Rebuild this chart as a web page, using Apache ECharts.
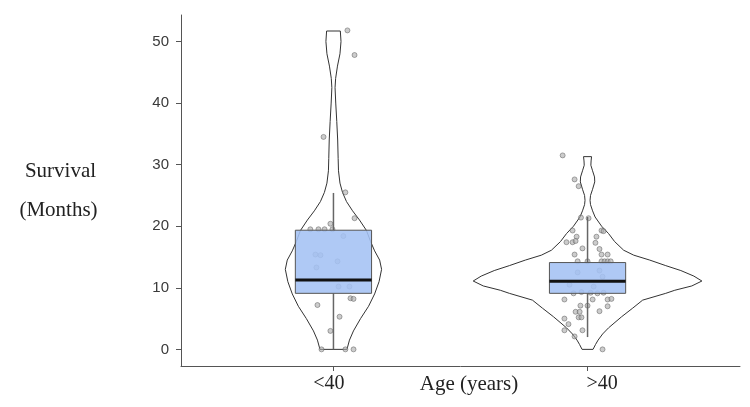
<!DOCTYPE html>
<html><head><meta charset="utf-8">
<script src="https://cdn.jsdelivr.net/npm/echarts@6/dist/echarts.min.js"></script>
<style>html,body{margin:0;padding:0;background:#fff}#c{width:750px;height:407px}</style>
</head><body><div id="c"></div>
<script>
// ---------- data ----------
const categories = ['<40', '>40'];
const yTicks = [0, 10, 20, 30, 40, 50];

// violin outlines: value (months) and relative density
const violinLt40Values  = [0,1.5,3,5,7,9,11,13,14.5,16,17.5,19.3,21,22.5,24,25.5,27,29,31,34,37,40,42.5,44,46,48,50,51.7];
const violinLt40Density = [0.118,0.140,0.175,0.237,0.307,0.360,0.399,0.421,0.404,0.360,0.325,0.289,0.228,0.167,0.114,0.079,0.057,0.044,0.041,0.037,0.029,0.020,0.014,0.019,0.035,0.057,0.066,0.060];
const violinGt40Values  = [0,0.8,1.5,2.5,3.5,5.3,6.7,8.0,9.1,9.6,10.3,11.1,11.9,12.8,13.6,14.5,15.3,16.1,17.5,18.8,20,21.5,22.5,23.5,24.2,25,26,27.2,28,29,29.9,30.6,31.3];
const violinGt40Density = [0.048,0.070,0.092,0.132,0.184,0.298,0.395,0.482,0.684,0.763,0.912,1.0,0.930,0.816,0.684,0.544,0.404,0.316,0.237,0.184,0.123,0.066,0.044,0.026,0.022,0.026,0.044,0.063,0.061,0.044,0.029,0.031,0.035];

// box statistics: low whisker, q1, median, q3, high whisker
const boxLt40 = [0, 9.1, 11.27, 19.35, 25.4];
const boxGt40 = [2.0, 9.1, 11.06, 14.1, 21.5];

// jittered observations: horizontal jitter (category units) and value
const pointsLt40Jitter = [0.055,0.083,-0.039,0.047,0.083,-0.012,-0.091,-0.059,-0.035,-0.004,0.039,-0.071,-0.051,0.016,-0.067,0.02,0.063,0.067,0.079,-0.063,0.024,-0.012,-0.047,0.047,0.079];
const pointsLt40Values = [51.8,47.8,34.5,25.5,21.3,20.4,19.5,19.5,19.5,19.5,18.4,15.4,15.3,14.3,13.3,10.2,10.2,8.3,8.2,7.2,5.3,3.0,0,0,0];
const pointsGt40Jitter = [-0.098,-0.051,-0.035,-0.026,0.004,-0.059,0.055,0.063,-0.043,0.035,-0.083,-0.059,-0.047,0.031,-0.020,0.047,-0.051,0.055,0.079,-0.039,0,0.055,0.067,0.079,0.091,
  -0.039,0.047,-0.071,0.024,0.059,-0.024,0.012,0.039,0.063,-0.055,
  -0.091,0.020,0.079,0.094,-0.028,0,0.079,-0.047,-0.031,0.047,-0.035,-0.024,-0.091,-0.075,-0.091,-0.020,-0.051,0.059];
const pointsGt40Values = [31.5,27.6,26.5,21.4,21.3,19.3,19.3,19.2,18.3,18.3,17.4,17.4,17.6,17.3,16.4,16.3,15.4,15.4,15.4,14.3,14.3,14.3,14.3,14.3,14.3,
  12.5,12.8,10.5,10.2,11.8,9.3,9.2,9.1,9.2,9.1,
  8.1,8.1,8.1,8.2,7.1,7.1,7.0,6.1,6.1,6.2,5.2,5.2,5.0,4.1,3.1,3.1,2.1,0];

// ---------- build ----------
const VIOLIN_HALF = 0.45, BOX_HALF = 0.15;
const violinValues = [violinLt40Values, violinGt40Values];
const violinDensity = [violinLt40Density, violinGt40Density];
const boxes = [boxLt40, boxGt40];
const scatterData = [];
pointsLt40Values.forEach((v, i) => scatterData.push([1 + pointsLt40Jitter[i], v]));
pointsGt40Values.forEach((v, i) => scatterData.push([2 + pointsGt40Jitter[i], v]));

const serif = "'Liberation Serif','Times New Roman',serif";
const sans = "'Liberation Sans',Arial,sans-serif";
const axisColor = '#555';

const chart = echarts.init(document.getElementById('c'), null, {renderer: 'canvas'});
chart.setOption({
  animation: false,
  backgroundColor: '#fff',
  grid: {left: 181, right: 10, top: 15, bottom: 41, containLabel: false},
  xAxis: {
    type: 'value', min: 0.4, max: 2.6,
    splitLine: {show: false},
    axisLine: {show: true, onZero: false, lineStyle: {color: axisColor, width: 1}},
    axisTick: {show: true, length: 5, customValues: [1, 2], lineStyle: {color: axisColor}},
    axisLabel: {
      customValues: [0.982, 2.057], margin: 8,
      formatter: v => categories[Math.round(v) - 1],
      fontFamily: serif, fontSize: 20, color: '#222'
    }
  },
  yAxis: {
    type: 'value', min: -2.7, max: 54.3,
    splitLine: {show: false},
    axisLine: {show: true, onZero: false, lineStyle: {color: axisColor, width: 1}},
    axisTick: {show: true, length: 5, customValues: yTicks, lineStyle: {color: axisColor}},
    axisLabel: {customValues: yTicks, margin: 12, fontFamily: sans, fontSize: 15, color: '#3a3a3a'}
  },
  graphic: [
    {type: 'text', left: null, x: 60.5, y: 171, style: {text: 'Survival', font: '21px ' + serif, fill: '#222', textAlign: 'center', textVerticalAlign: 'middle'}},
    {type: 'text', x: 58.5, y: 210, style: {text: '(Months)', font: '21px ' + serif, fill: '#222', textAlign: 'center', textVerticalAlign: 'middle'}},
    {type: 'text', x: 469, y: 384, style: {text: 'Age (years)', font: '21px ' + serif, fill: '#222', textAlign: 'center', textVerticalAlign: 'middle'}}
  ],
  series: [
    {
      type: 'custom', name: 'violin', z: 1,
      data: [[1], [2]],
      encode: {x: 0},
      renderItem: (params, api) => {
        const g = params.dataIndex, cx = api.value(0);
        const vals = violinValues[g], dens = violinDensity[g];
        const pts = [];
        for (let i = 0; i < vals.length; i++) pts.push(api.coord([cx + dens[i] * VIOLIN_HALF, vals[i]]));
        for (let i = vals.length - 1; i >= 0; i--) pts.push(api.coord([cx - dens[i] * VIOLIN_HALF, vals[i]]));
        return {type: 'polygon', shape: {points: pts}, style: {fill: '#fff', stroke: '#333', lineWidth: 1}};
      }
    },
    {
      type: 'scatter', name: 'obs', z: 2,
      data: scatterData, symbol: 'circle', symbolSize: 5,
      itemStyle: {color: 'rgba(170,170,170,0.75)', borderColor: 'rgba(90,90,90,0.8)', borderWidth: 0.8}
    },
    {
      type: 'custom', name: 'box', z: 3,
      data: boxes.map((b, i) => [i + 1].concat(b)),
      encode: {x: 0, y: [1, 2, 3, 4, 5]},
      renderItem: (params, api) => {
        const x = api.value(0);
        const low = api.coord([x, api.value(1)]), q1 = api.coord([x, api.value(2)]);
        const med = api.value(3), q3 = api.coord([x, api.value(4)]), high = api.coord([x, api.value(5)]);
        const l = api.coord([x - BOX_HALF, med]), r = api.coord([x + BOX_HALF, med]);
        return {type: 'group', children: [
          {type: 'line', shape: {x1: high[0], y1: high[1], x2: q3[0], y2: q3[1]}, style: {stroke: '#666', lineWidth: 1.5}},
          {type: 'line', shape: {x1: q1[0], y1: q1[1], x2: low[0], y2: low[1]}, style: {stroke: '#666', lineWidth: 1.5}},
          {type: 'rect', shape: {x: l[0], y: q3[1], width: r[0] - l[0], height: q1[1] - q3[1]}, style: {fill: 'rgba(164,194,244,0.88)', stroke: '#555', lineWidth: 1}},
          {type: 'line', shape: {x1: l[0], y1: l[1], x2: r[0], y2: r[1]}, style: {stroke: '#111', lineWidth: 3}}
        ]};
      }
    }
  ]
});
</script></body></html>
